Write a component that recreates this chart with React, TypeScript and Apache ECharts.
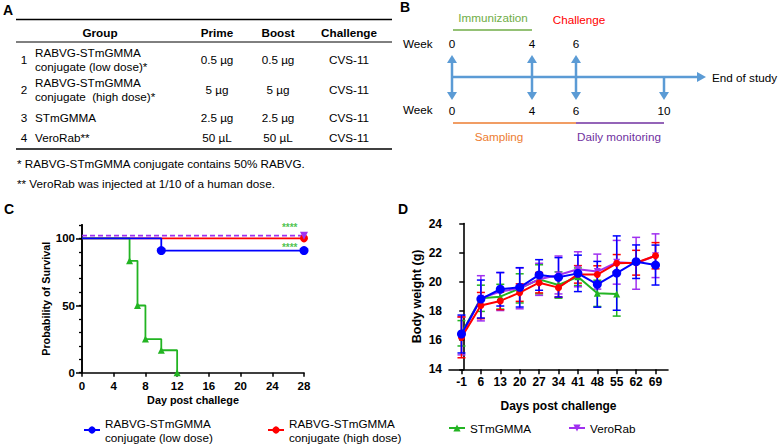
import React, { useEffect, useRef } from "react";
import * as echarts from "echarts";

// ---------- Panel A: table ----------
const tableHeaders = ["Group", "Prime", "Boost", "Challenge"];
const tableGroups = [
  ["RABVG-STmGMMA", "conjugate (low dose)*"],
  ["RABVG-STmGMMA", "conjugate  (high dose)*"],
  ["STmGMMA"],
  ["VeroRab**"],
];
const tablePrime = ["0.5 µg", "5 µg", "2.5 µg", "50 µL"];
const tableBoost = ["0.5 µg", "5 µg", "2.5 µg", "50 µL"];
const tableChallenge = ["CVS-11", "CVS-11", "CVS-11", "CVS-11"];
const footnotes = [
  "* RABVG-STmGMMA conjugate contains 50% RABVG.",
  "** VeroRab was injected at 1/10 of a human dose.",
];

// ---------- Panel B: timeline ----------
const weeksTop = [0, 4, 6];
const weeksBottom = [0, 4, 6, 10];

// ---------- Shared ----------
const seriesNames = [
  "RABVG-STmGMMA conjugate (low dose)",
  "RABVG-STmGMMA conjugate (high dose)",
  "STmGMMA",
  "VeroRab",
];

// ---------- Panel C: survival (day, % survival) ----------
const survLow = [[0, 100], [10, 90.9], [28, 90.9]];
const survHigh = [[0, 100], [28, 100]];
const survStm = [[0, 100], [6, 83.3], [7, 50], [8, 25], [10, 16.7], [12, 0]];
const survVero = [[0, 102], [28, 102]]; // drawn offset above 100 in the figure
const survDayTicks = [0, 4, 8, 12, 16, 20, 24, 28];
const survLabelTicks = [0, 50, 100];
const sigMarks = [[26.2, 108.4], [26.2, 93]];

// ---------- Panel D: body weight ----------
const days = [-1, 6, 13, 20, 27, 34, 41, 48, 55, 62, 69];
const lowMean = [16.42, 18.82, 19.49, 19.62, 20.47, 20.31, 20.58, 19.83, 20.6, 21.38, 21.15];
const lowSD = [1.3, 1.3, 1.15, 1.35, 1.05, 1.35, 1.25, 1.57, 2.55, 1.15, 1.37];
const highMean = [16.19, 18.37, 18.69, 19.26, 19.94, 19.6, 20.51, 20.5, 21.27, 21.31, 21.79];
const highSD = [1.4, 0.9, 0.6, 0.6, 0.7, 0.65, 0.6, 0.6, 0.6, 0.85, 0.9];
const stmMean = [16.47, 18.87, 18.98, 19.55, 20.17, 19.78, 20.35, 19.21, 19.17, null, null];
const stmSD = [0.87, 0.9, 0.85, 1.0, 1.0, 0.9, 0.6, 0.9, 1.52, null, null];
const veroMean = [16.29, 18.87, 19.33, 19.55, 20.17, 20.47, 20.86, 20.7, 21.34, 21.27, 21.79];
const veroSD = [1.3, 1.55, 1.3, 1.4, 1.1, 1.3, 1.2, 1.2, 1.5, 1.78, 1.5];

const FONT = '"Liberation Sans", Arial, sans-serif';
const BLUE = "#0000ff";
const RED = "#ff0000";
const GREEN = "#22b422";
const PURPLE = "#a030f0";
const SKY = "#5b9bd5";

function txt(text: string, x: number, y: number, o: any = {}) {
  return {
    type: "text",
    x,
    y,
    silent: true,
    style: {
      text,
      fill: o.fill || "#000",
      fontSize: o.fontSize || 11.7,
      fontWeight: o.bold ? "bold" : "normal",
      fontFamily: FONT,
      align: o.align || "left",
      verticalAlign: "middle",
    },
  };
}
function ln(x1: number, y1: number, x2: number, y2: number, stroke: string, lineWidth: number) {
  return { type: "line", silent: true, shape: { x1, y1, x2, y2 }, style: { stroke, lineWidth } };
}
function poly(points: number[][], fill: string) {
  return { type: "polygon", silent: true, shape: { points }, style: { fill } };
}

function buildGraphics() {
  const g: any[] = [];
  // panel letters
  g.push(txt("A", 3, 10, { bold: true, fontSize: 14 }));
  g.push(txt("B", 400, 7, { bold: true, fontSize: 14 }));
  g.push(txt("C", 4, 208.5, { bold: true, fontSize: 14 }));
  g.push(txt("D", 398, 208.5, { bold: true, fontSize: 14 }));

  // ---- table A ----
  const colX = [100, 217, 278, 349];
  g.push(ln(16, 19.5, 392, 19.5, "#000", 1.6));
  tableHeaders.forEach((h, i) => g.push(txt(h, colX[i], 32, { bold: true, align: "center" })));
  g.push(ln(16, 42, 392, 42, "#000", 1));
  const rowY = [59, 89, 117, 137];
  tableGroups.forEach((lines, r) => {
    const y = rowY[r];
    g.push(txt(String(r + 1), 24, y, { align: "center" }));
    if (lines.length === 2) {
      g.push(txt(lines[0], 35, y - 7));
      g.push(txt(lines[1], 35, y + 7));
    } else {
      g.push(txt(lines[0], 35, y));
    }
    g.push(txt(tablePrime[r], colX[1], y, { align: "center" }));
    g.push(txt(tableBoost[r], colX[2], y, { align: "center" }));
    g.push(txt(tableChallenge[r], colX[3], y, { align: "center" }));
  });
  g.push(ln(16, 149, 392, 149, "#000", 1.6));
  g.push(txt(footnotes[0], 17, 163));
  g.push(txt(footnotes[1], 17, 183));

  // ---- timeline B ----
  const wx: Record<number, number> = { 0: 452, 4: 532, 6: 576, 10: 664 };
  const midY = 77;
  g.push(txt("Immunization", 493, 17, { fill: "#70ad47", align: "center" }));
  g.push(ln(453, 30, 532, 30, "#70ad47", 1.5));
  g.push(txt("Challenge", 579, 19, { fill: RED, align: "center" }));
  g.push(txt("Week", 403, 43));
  weeksTop.forEach((w) => {
    const x = wx[w];
    g.push(txt(String(w), x, 43, { align: "center" }));
    g.push(ln(x, midY, x, 62, SKY, 2.5));
    g.push(poly([[x, 55], [x - 5, 63], [x + 5, 63]], SKY));
  });
  g.push(ln(452, midY, 698, midY, SKY, 2.5));
  g.push(poly([[706, midY], [697, midY - 5], [697, midY + 5]], SKY));
  g.push(txt("End of study", 712, midY));
  weeksBottom.forEach((w) => {
    const x = wx[w];
    g.push(ln(x, midY, x, 93, SKY, 2.5));
    g.push(poly([[x, 100], [x - 5, 92], [x + 5, 92]], SKY));
    g.push(txt(String(w), x, 110, { align: "center" }));
  });
  g.push(txt("Week", 403, 109));
  g.push(ln(453, 123, 576, 123, "#ed7d31", 1.5));
  g.push(ln(576, 123, 664, 123, "#7030a0", 1.5));
  g.push(txt("Sampling", 499, 136, { fill: "#ed7d31", align: "center" }));
  g.push(txt("Daily monitoring", 619, 136, { fill: "#7030a0", align: "center" }));
  return g;
}

function errorBars(name: string, means: (number | null)[], sds: (number | null)[], color: string) {
  const data: number[][] = [];
  days.forEach((d, i) => {
    const m = means[i];
    const s = sds[i];
    if (m != null && s != null) data.push([d, m - s, m + s]);
  });
  return {
    type: "custom",
    name: name + " SD",
    xAxisIndex: 1,
    yAxisIndex: 2,
    silent: true,
    encode: { x: 0, y: [1, 2] },
    data,
    renderItem: (params: any, api: any) => {
      const x = api.value(0);
      const lo = api.coord([x, api.value(1)]);
      const hi = api.coord([x, api.value(2)]);
      const hw = 4;
      const st = { stroke: color, lineWidth: 1.5 };
      return {
        type: "group",
        children: [
          { type: "line", shape: { x1: lo[0], y1: lo[1], x2: hi[0], y2: hi[1] }, style: st },
          { type: "line", shape: { x1: lo[0] - hw, y1: lo[1], x2: lo[0] + hw, y2: lo[1] }, style: st },
          { type: "line", shape: { x1: hi[0] - hw, y1: hi[1], x2: hi[0] + hw, y2: hi[1] }, style: st },
        ],
      };
    },
  };
}

function weightLine(name: string, means: (number | null)[], color: string, symbol: string, size: number) {
  const data: number[][] = [];
  days.forEach((d, i) => {
    const m = means[i];
    if (m != null) data.push([d, m]);
  });
  return {
    type: "line",
    name,
    xAxisIndex: 1,
    yAxisIndex: 2,
    data,
    symbol,
    symbolSize: size,
    showAllSymbol: true,
    lineStyle: { color, width: 2 },
    itemStyle: { color },
  };
}

function survLine(name: string, pts: number[][], color: string, symbol: string, size: number, dashed = false) {
  return {
    type: "line",
    name,
    xAxisIndex: 0,
    yAxisIndex: 0,
    step: "end",
    showAllSymbol: true,
    data: pts.map((p, i) => (i === 0 ? { value: p, symbol: "none" } : { value: p })),
    symbol,
    symbolSize: size,
    lineStyle: { color, width: 1.8, type: dashed ? [5, 3] : "solid" },
    itemStyle: { color },
  };
}

const axisText = { color: "#000", fontWeight: "bold", fontFamily: FONT };

export default function App() {
  const ref = useRef<HTMLDivElement>(null);
  useEffect(() => {
    if (!ref.current) return;
    const chart = echarts.init(ref.current, undefined, { renderer: "svg" });
    const legendItem = (name: string, left: number, top: number) => ({
      data: [name],
      left,
      top,
      orient: "horizontal",
      selectedMode: false,
      itemWidth: 16,
      itemHeight: 9,
      formatter: (n: string) => n.replace(" conjugate", "\nconjugate"),
      textStyle: { color: "#000", fontSize: 11.7, lineHeight: 14, fontFamily: FONT },
    });
    const option: any = {
      animation: false,
      backgroundColor: "#fff",
      textStyle: { fontFamily: FONT },
      graphic: buildGraphics(),
      legend: [
        legendItem(seriesNames[0], 78, 411),
        legendItem(seriesNames[1], 262, 411),
        legendItem(seriesNames[2], 443, 416),
        legendItem(seriesNames[3], 563, 416),
      ],
      grid: [
        { left: 82, right: 476, top: 224.9, bottom: 73.3, containLabel: false },
        { left: 449, right: 112, top: 223.5, bottom: 76.7, containLabel: false },
      ],
      xAxis: [
        {
          gridIndex: 0,
          type: "value",
          min: 0,
          max: 28,
          interval: 4,
          name: "Day post challege",
          nameLocation: "middle",
          nameGap: 22,
          nameTextStyle: { ...axisText, fontSize: 10.8 },
          axisLine: { show: true, lineStyle: { color: "#000", width: 1.6 } },
          axisTick: { show: true, length: 4, lineStyle: { color: "#000", width: 1.5 } },
          axisLabel: { ...axisText, fontSize: 11.5, margin: 7, customValues: survDayTicks },
          splitLine: { show: false },
        },
        {
          gridIndex: 1,
          type: "value",
          min: -5.5,
          max: 73.5,
          name: "Days post challenge",
          nameLocation: "middle",
          nameGap: 31,
          nameTextStyle: { ...axisText, fontSize: 12 },
          axisLine: { show: true, lineStyle: { color: "#000", width: 1.6 } },
          axisTick: { show: true, length: 5, customValues: days, lineStyle: { color: "#000", width: 1.5 } },
          axisLabel: { ...axisText, fontSize: 12, margin: 7, customValues: days },
          splitLine: { show: false },
        },
      ],
      yAxis: [
        {
          gridIndex: 0,
          type: "value",
          min: 0,
          max: 110,
          interval: 10,
          name: "Probability of Survival",
          nameLocation: "middle",
          nameGap: 30,
          nameTextStyle: { ...axisText, fontSize: 10.8 },
          axisLine: { show: true, lineStyle: { color: "#000", width: 1.6 } },
          axisTick: { show: true, length: 3, lineStyle: { color: "#000", width: 1.3 } },
          axisLabel: { ...axisText, fontSize: 11.5, margin: 7, customValues: survLabelTicks },
          splitLine: { show: false },
        },
        {
          gridIndex: 0,
          type: "value",
          position: "left",
          min: 0,
          max: 110,
          interval: 10,
          axisLine: { show: true, lineStyle: { color: "#000", width: 1.6 } },
          axisTick: { show: true, length: 6, customValues: survLabelTicks, lineStyle: { color: "#000", width: 1.5 } },
          axisLabel: { show: false },
          splitLine: { show: false },
        },
        {
          gridIndex: 1,
          type: "value",
          min: 14,
          max: 24,
          interval: 2,
          name: "Body weight (g)",
          nameLocation: "middle",
          nameGap: 26,
          nameTextStyle: { ...axisText, fontSize: 12.5 },
          axisLine: { show: true, lineStyle: { color: "#000", width: 1.6 } },
          axisTick: { show: true, length: 5, lineStyle: { color: "#000", width: 1.5 } },
          axisLabel: { ...axisText, fontSize: 12, margin: 7 },
          splitLine: { show: false },
        },
      ],
      series: [
        // panel D (first so legend icons use solid lines)
        errorBars(seriesNames[2], stmMean, stmSD, GREEN),
        weightLine(seriesNames[2], stmMean, GREEN, "triangle", 7),
        errorBars(seriesNames[3], veroMean, veroSD, PURPLE),
        weightLine(seriesNames[3], veroMean, PURPLE, "path://M0,0 L10,0 L5,9 Z", 7),
        errorBars(seriesNames[1], highMean, highSD, RED),
        weightLine(seriesNames[1], highMean, RED, "circle", 7),
        errorBars(seriesNames[0], lowMean, lowSD, BLUE),
        weightLine(seriesNames[0], lowMean, BLUE, "circle", 9),
        // panel C
        survLine(seriesNames[1], survHigh, RED, "circle", 8),
        survLine(seriesNames[2], survStm, GREEN, "triangle", 7),
        survLine(seriesNames[0], survLow, BLUE, "circle", 9),
        survLine(seriesNames[3], survVero, PURPLE, "path://M0,0 L10,0 L5,9 Z", 8, true),
        {
          type: "scatter",
          name: "significance",
          xAxisIndex: 0,
          yAxisIndex: 0,
          data: sigMarks,
          symbolSize: 0.1,
          itemStyle: { color: "rgba(0,0,0,0)" },
          silent: true,
          label: {
            show: true,
            position: "inside",
            formatter: "****",
            color: GREEN,
            fontSize: 10,
            fontWeight: "bold",
            fontFamily: FONT,
          },
        },
      ],
    };
    chart.setOption(option);
    return () => chart.dispose();
  }, []);
  return (
    <div
      ref={ref}
      style={{ position: "fixed", left: 0, top: 0, width: 780, height: 446, background: "#fff" }}
    />
  );
}
